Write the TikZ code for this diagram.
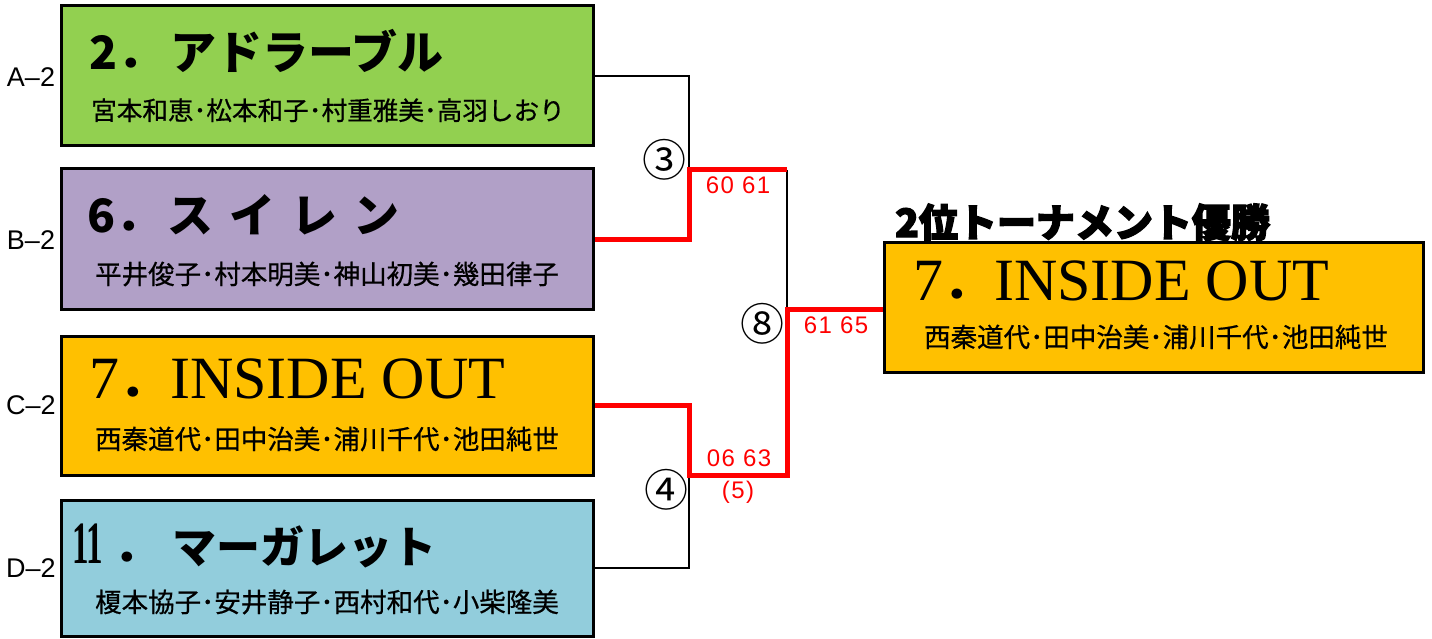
\documentclass[tikz,border=0pt]{standalone}
\usepackage{fontspec}
\usepackage{graphicx}
\setmainfont{Liberation Serif}
\newfontfamily\jp{Noto Sans CJK JP}
\newfontfamily\jpm[FakeBold=0.6]{Noto Sans CJK JP}
\newfontfamily\jph[BoldFeatures={FakeBold=3.5}]{Noto Sans CJK JP}
\newfontfamily\lsans{Liberation Sans}
\newfontfamily\scoref[LetterSpace=6]{Liberation Sans}
\definecolor{cA}{HTML}{92D050}
\definecolor{cB}{HTML}{B1A0C7}
\definecolor{cC}{HTML}{FFC000}
\definecolor{cD}{HTML}{92CDDC}
\definecolor{rd}{HTML}{FF0000}
\begin{document}
\begin{tikzpicture}[x=1pt,y=-1pt,
  tbox/.style={draw=black, line width=3pt, minimum width=532pt, inner sep=0pt},
  numj/.style={anchor=base west, inner sep=0pt, font=\jp\bfseries\fontsize{46}{50}\selectfont},
  namej/.style={anchor=base west, inner sep=0pt, font=\jp\bfseries\fontsize{46}{50}\selectfont},
  ser/.style={anchor=base west, inner sep=0pt, font=\fontsize{60}{64}\selectfont},
  mem/.style={anchor=base, inner sep=0pt, font=\jpm\fontsize{26.5}{30}\selectfont},
  lab/.style={inner sep=0pt, font=\lsans\fontsize{27}{30}\selectfont},
  circ/.style={inner sep=0pt, font=\jp\fontsize{44}{48}\selectfont},
  score/.style={inner sep=0pt, text=rd, font=\scoref\fontsize{24}{28}\selectfont},
  blk/.style={draw=black, line width=2.7pt},
  red/.style={draw=rd, line width=5pt}]
\useasboundingbox (0,0) rectangle (1432,639);
% junction coordinates
\coordinate (j3) at (689,170);
\coordinate (s3) at (787,170);
\coordinate (j4) at (689,475);
\coordinate (s4) at (787,475);
\coordinate (j8) at (787,309);
% boxes
\node[tbox, fill=cA, minimum height=140pt] (A) at (327,76) {};
\node[tbox, fill=cB, minimum height=140pt] (B) at (327,239) {};
\node[tbox, fill=cC, minimum height=139pt] (C) at (327,405.5) {};
\node[tbox, fill=cD, minimum height=136pt] (D) at (327,568) {};
\node[tbox, fill=cC, minimum width=539pt, minimum height=130pt] (W) at (1153.5,307) {};
% connectors
\draw[blk] (A.east) -| (j3);
\draw[blk] (s3) -- (j8);
\draw[blk] (D.east) -| (j4);
\draw[red] (B.east) -| (j3) -- (s3);
\draw[red] (C.east) -| (j4) -- (s4) -- (j8) -- (j8 -| W.west);
% side labels
\node[lab] (LA) at (31,77) {A–2};
\node[lab] (LB) at (31,240) {B–2};
\node[lab] (LC) at (31,405) {C–2};
\node[lab] (LD) at (31,568) {D–2};
% titles
\node[numj] (An) at (89,70) {2．};
\node[namej] (Aname) at (170,70) {アドラーブル};
\node[numj] (Bn) at (87,233) {6．};
\node[namej] (Bname) at (167,233) {ス\hspace{16pt}イ\hspace{16pt}レ\hspace{16pt}ン};
\node[ser] (Cn) at (89,398) {7{\jp\bfseries\fontsize{46}{50}\selectfont ．}};
\node[ser] (Cname) at (170,398) {INSIDE OUT};
\node[ser, font=\bfseries\fontsize{60}{64}\selectfont] (Dn) at (72,563) {\scalebox{0.55}[1]{11}{\jp\bfseries\fontsize{46}{50}\selectfont\hspace{10pt}．}};
\node[namej, font=\jp\bfseries\fontsize{44}{48}\selectfont] (Dname) at (172,563) {マーガレット};
\node[ser] (Wn) at (913,300) {7{\jp\bfseries\fontsize{46}{50}\selectfont ．}};
\node[ser] (Wname) at (994,300) {INSIDE OUT};
% members
\node[mem, font=\jpm\fontsize{25.6}{30}\selectfont] (Am) at (328,120) {宮本和恵･松本和子･村重雅美･高羽しおり};
\node[mem] (Bm) at (327,284) {平井俊子･村本明美･神山初美･幾田律子};
\node[mem] (Cm) at (327,449) {西秦道代･田中治美･浦川千代･池田純世};
\node[mem] (Dm) at (327,612) {榎本協子･安井静子･西村和代･小柴隆美};
\node[mem] (Wm) at (1156,347) {西秦道代･田中治美･浦川千代･池田純世};
% winner heading
\node[anchor=base west, inner sep=0pt, font=\jph\bfseries\fontsize{39}{43}\selectfont] (T) at (895,237) {2位トーナメント優勝};
% match numbers
\node[circ] (m3) at (664,160) {③};
\node[circ] (m4) at (666,490) {④};
\node[circ] (m8) at (762,324) {⑧};
% scores
\node[score] (sc3) at (738,185) {60 61};
\node[score] (sc8) at (836,325) {61 65};
\node[score] (sc4) at (739,458) {06 63};
\node[score] (sc4b) at (738,492) {(5)};
\end{tikzpicture}
\end{document}
